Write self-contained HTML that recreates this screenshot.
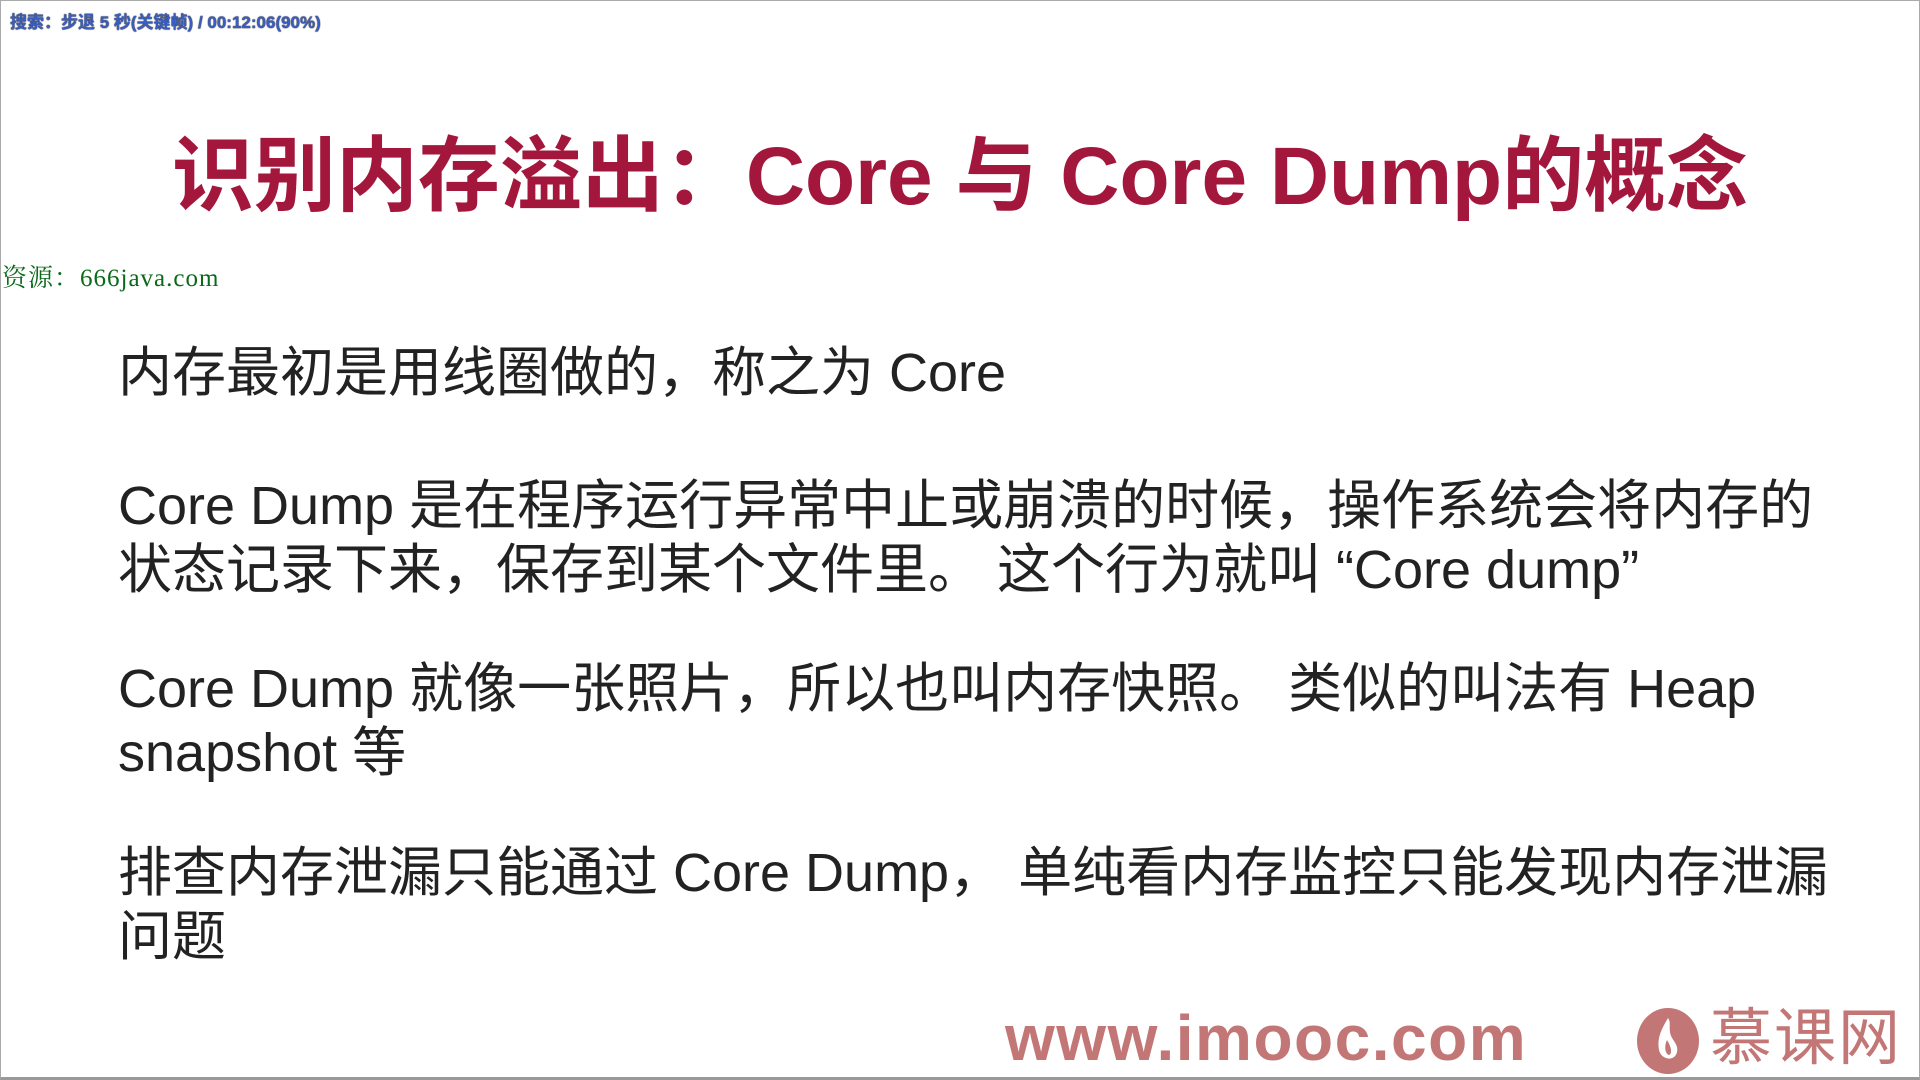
<!DOCTYPE html>
<html><head><meta charset="utf-8"><style>
html,body{margin:0;padding:0}
body{width:1920px;height:1080px;position:relative;overflow:hidden;background:#fff;font-family:"Liberation Sans","Noto Sans CJK SC",sans-serif;}
.frame{position:absolute;left:0;top:0;width:1918px;height:1076px;border:1px solid #aaa;border-bottom:3px solid #999;}
.wm{position:absolute;left:10px;top:8px;font-size:17px;font-weight:bold;color:#3a5ec0;text-shadow:0 0 1px #222,0 0 1px #222;white-space:nowrap}
.src{position:absolute;left:2px;top:258px;font-size:25px;color:#0a6a1a;font-family:"Liberation Serif","Noto Serif CJK SC",serif;white-space:nowrap;letter-spacing:1px}
.title{position:absolute;left:0;width:1920px;top:127px;text-align:center;font-size:82px;font-weight:bold;color:#a3173d;white-space:nowrap;line-height:100px}
.p{position:absolute;left:118px;font-size:54px;color:#222;line-height:64px;white-space:nowrap}
.url{position:absolute;left:1005px;top:1003px;font-size:64px;font-weight:bold;color:#c27676;white-space:nowrap;line-height:70px;letter-spacing:1.5px}
.logo{position:absolute;left:1637px;top:1008px;width:62px;height:66px;border-radius:50%;background:#c27676}
.mk{position:absolute;left:1710px;top:1004px;font-size:62px;color:#c27676;white-space:nowrap;line-height:70px;letter-spacing:2px}
</style></head><body>
<div class="frame"></div>
<div class="wm">搜索：步退 5 秒(关键帧) / 00:12:06(90%)</div>
<div class="title">识别内存溢出：Core 与 Core Dump的概念</div>
<div class="src">资源：666java.com</div>
<div class="p" style="top:341px">内存最初是用线圈做的，称之为 Core</div>
<div class="p" style="top:474px">Core Dump 是在程序运行异常中止或崩溃的时候，操作系统会将内存的<br>状态记录下来，保存到某个文件里。 这个行为就叫 “Core dump”</div>
<div class="p" style="top:657px">Core Dump 就像一张照片，所以也叫内存快照。 类似的叫法有 Heap<br>snapshot 等</div>
<div class="p" style="top:841px">排查内存泄漏只能通过 Core Dump， 单纯看内存监控只能发现内存泄漏<br>问题</div>
<div class="url">www.imooc.com</div>
<div class="logo"><svg width="62" height="66" viewBox="0 0 62 66"><path d="M31 10 C24 22 20 30 22 42 C24 52 38 54 40 44 C42 36 34 32 33 24 C32 18 34 14 31 10 Z" fill="#fff"/><path d="M30 32 C27 38 28 46 32 47 C35 46 35 40 30 32Z" fill="#c27676"/></svg></div>
<div class="mk">慕课网</div>
</body></html>
